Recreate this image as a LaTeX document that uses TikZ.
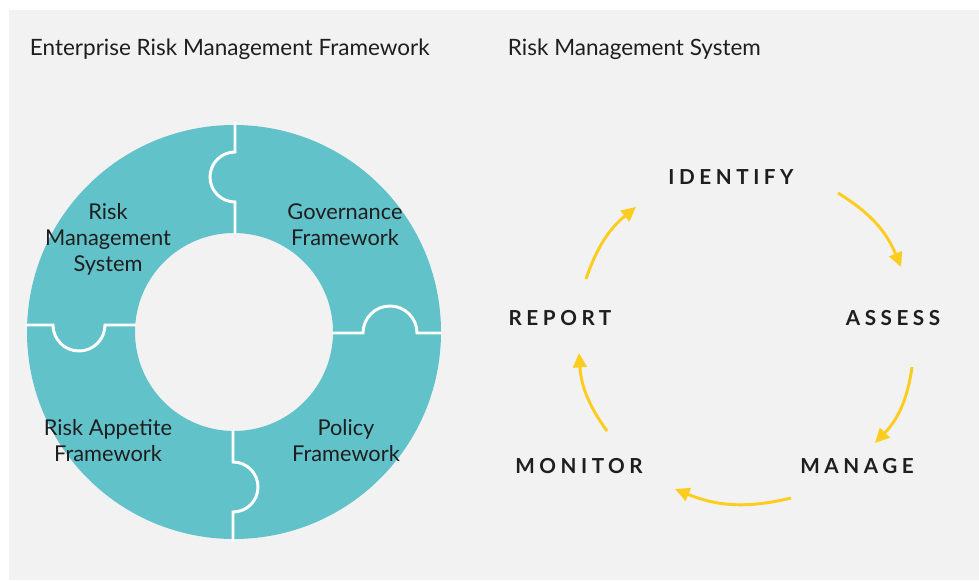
\documentclass[tikz,border=0pt]{standalone}
\usepackage{fontspec}
\setmainfont{Lato}
\newfontfamily\stagefont[LetterSpace=22]{Lato}
\definecolor{ERMGrey}{RGB}{242, 242, 242}
\definecolor{ERMTeal}{RGB}{98, 194, 202}
\definecolor{ERMInk}{RGB}{30, 30, 30}
\definecolor{ERMYellow}{RGB}{252, 205, 30}
\usepackage{tikz}
\usetikzlibrary{arrows.meta}

\begin{document}
\begin{tikzpicture}[
          x=0.025cm, y=0.025cm,
          every node/.style={font=\fontsize{15.5}{18.5}\selectfont, text=ERMInk},
          title/.style={anchor=west, font=\fontsize{16}{19}\selectfont},
          segment/.style={align=center},
          stage/.style={font=\fontsize{14.7}{18.6}\stagefont\bfseries},
          cut/.style={white, line width=2.1pt},
          flow/.style={-{Triangle[length=3.6mm, width=3.4mm]}, ERMYellow, line width=2.1pt}
        ]
        \useasboundingbox (0,0) rectangle (979,580);
        \fill[ERMGrey] (9,0) rectangle (979,570);

        \node[title] (ermtitle) at (25,531) {Enterprise Risk Management Framework};
        \node[title] (rmstitle) at (503,531) {Risk Management System};

        % ring of the four frameworks
        \coordinate (hub) at (234,248);
        \fill[ERMTeal, even odd rule] (hub) circle (207) (hub) circle (99);

        \draw[cut] (235,458) -- (235,428) arc[start angle=90, end angle=270, radius=25] -- (235,346);
        \draw[cut] (332,247) -- (363,247) arc[start angle=180, end angle=0, radius=27] -- (442,247);
        \draw[cut] (26,255) -- (53,255) arc[start angle=180, end angle=360, radius=26] -- (136,255);
        \draw[cut] (233,150) -- (233,118) arc[start angle=90, end angle=-90, radius=25] -- (233,38);

        \node[segment] (rms) at (108,341) {Risk\\Management\\System};
        \node[segment] (governance) at (345,355) {Governance\\Framework};
        \node[segment] (appetite) at (108,139) {Risk Appetite\\Framework};
        \node[segment] (policy) at (346,139) {Policy\\Framework};

        % risk management cycle
        \node[stage] (identify) at (731,403) {IDENTIFY};
        \node[stage] (assess) at (893,262) {ASSESS};
        \node[stage] (manage) at (857,114) {MANAGE};
        \node[stage] (monitor) at (579,114) {MONITOR};
        \node[stage] (report) at (560,262) {REPORT};

        \coordinate (identify-out) at (838,387);
        \coordinate (assess-in) at (901,313);
        \coordinate (assess-out) at (912,213);
        \coordinate (manage-in) at (875,137);
        \coordinate (manage-out) at (791,82);
        \coordinate (monitor-in) at (675,91);
        \coordinate (monitor-out) at (607,149);
        \coordinate (report-in) at (579,227);
        \coordinate (report-out) at (586,301);
        \coordinate (identify-in) at (636,373);

        \draw[flow] (identify-out) to[bend left=18] (assess-in);
        \draw[flow] (assess-out) to[bend left=18] (manage-in);
        \draw[flow] (manage-out) to[bend left=18] (monitor-in);
        \draw[flow] (monitor-out) to[bend left=16] (report-in);
        \draw[flow] (report-out) to[bend left=16] (identify-in);
      \end{tikzpicture}
\end{document}
